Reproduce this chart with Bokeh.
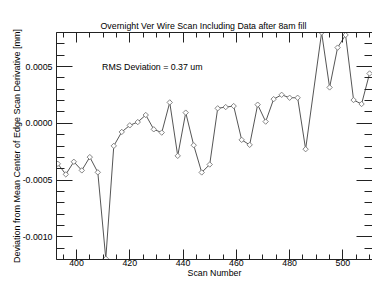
from bokeh.plotting import figure
from bokeh.models import LinearAxis, FixedTicker, PrintfTickFormatter, Label, Range1d
from bokeh.embed import file_html
from bokeh.resources import INLINE

# ---- data ----
scan = [393, 396, 399, 402, 405, 408, 411, 414, 417, 420,
        423, 426, 429, 432, 435, 438, 441, 444, 447, 450,
        453, 456, 459, 462, 465, 468, 471, 474, 477, 480,
        483, 486, 492, 495, 498, 501, 504, 507, 510]
deviation = [-0.000357, -0.000450, -0.000339, -0.000415, -0.000298, -0.000432, -0.001193, -0.000199, -0.000076, -0.000018,
             0.000011, 0.000073, -0.000053, -0.000082, 0.000184, -0.000287, 0.000094, -0.000193, -0.000433, -0.000363,
             0.000132, 0.000143, 0.000152, -0.000146, -0.000190, 0.000164, 0.000015, 0.000213, 0.000251, 0.000225,
             0.000225, -0.000228, 0.000800, 0.000316, 0.000667, 0.000778, 0.000205, 0.000170, 0.000439]

x_major = [400, 420, 440, 460, 480, 500]
x_minor = [395, 400, 405, 410, 415, 420, 425, 430, 435, 440, 445, 450, 455,
           460, 465, 470, 475, 480, 485, 490, 495, 500, 505, 510]
y_major = [-0.0010, -0.0005, 0.0, 0.0005]
y_minor = [-0.0012, -0.0011, -0.0010, -0.0009, -0.0008, -0.0007, -0.0006, -0.0005,
           -0.0004, -0.0003, -0.0002, -0.0001, 0.0, 0.0001, 0.0002, 0.0003, 0.0004,
           0.0005, 0.0006, 0.0007, 0.0008]

title_text = "Overnight Ver Wire Scan Including Data after  8am fill"
note_text = "RMS Deviation = 0.37 um"
x_title = "Scan Number"
y_title = "Deviation from Mean Center of Edge Scan Derivative [mm]"

FONT = "Liberation Sans"
FS = "8.8px"
AX = "#222222"

p = figure(width=372, height=280,
           x_range=Range1d(392.5, 511.1), y_range=Range1d(-0.0012, 0.0008),
           output_backend="svg", toolbar_location=None,
           min_border_left=56, min_border_right=0,
           min_border_top=32, min_border_bottom=20)
p.outline_line_color = None
p.xgrid.visible = False
p.ygrid.visible = False
p.background_fill_color = "white"
p.border_fill_color = "white"

p.title.text = title_text
p.title.align = "left"
p.title.offset = 44
p.title.text_font = FONT
p.title.text_font_size = FS
p.title.text_font_style = "normal"
p.title.text_color = "black"
p.title.standoff = 4


def style(ax, ticks, minors, tin, min_in, labels):
    ax.ticker = FixedTicker(ticks=ticks, minor_ticks=minors)
    ax.major_tick_in = tin
    ax.major_tick_out = 0
    ax.minor_tick_in = min_in
    ax.minor_tick_out = 0
    ax.axis_line_color = AX
    ax.major_tick_line_color = AX
    ax.minor_tick_line_color = AX
    ax.axis_line_width = 1
    ax.major_tick_line_width = 1
    ax.minor_tick_line_width = 1
    ax.major_label_text_font = FONT
    if labels:
        ax.major_label_text_font_size = FS
        ax.major_label_text_color = "black"
    else:
        ax.major_label_text_font_size = "0px"
        ax.major_label_text_color = None
        ax.major_label_standoff = 0


xb = p.xaxis[0]
style(xb, x_major, x_minor, 10, 5, True)
xb.major_label_standoff = 0
xb.axis_label = x_title
xb.axis_label_text_font = FONT
xb.axis_label_text_font_size = FS
xb.axis_label_text_font_style = "normal"
xb.axis_label_text_color = "black"
xb.axis_label_standoff = -1

yl = p.yaxis[0]
style(yl, y_major, y_minor, 16, 8, True)
yl.formatter = PrintfTickFormatter(format="%.4f")
yl.major_label_standoff = 4
yl.axis_label = y_title
yl.axis_label_text_font = FONT
yl.axis_label_text_font_size = "9px"
yl.axis_label_text_font_style = "normal"
yl.axis_label_text_color = "black"
yl.axis_label_standoff = -2

xt = LinearAxis()
style(xt, x_major, x_minor, 10, 5, False)
p.add_layout(xt, "above")

yr = LinearAxis()
style(yr, y_major, y_minor, 16, 8, False)
p.add_layout(yr, "right")

p.line(scan, deviation, line_color="#555555", line_width=1)
p.scatter(scan, deviation, marker="square", angle=0.785398, size=3.8,
          fill_color="white", line_color="#777777", line_width=0.9)

p.add_layout(Label(x=409.6, y=0.0005, text=note_text, text_font=FONT,
                   text_font_size=FS, text_align="left", text_baseline="alphabetic",
                   text_color="black"))

open("out.html", "w").write(file_html(p, INLINE))
